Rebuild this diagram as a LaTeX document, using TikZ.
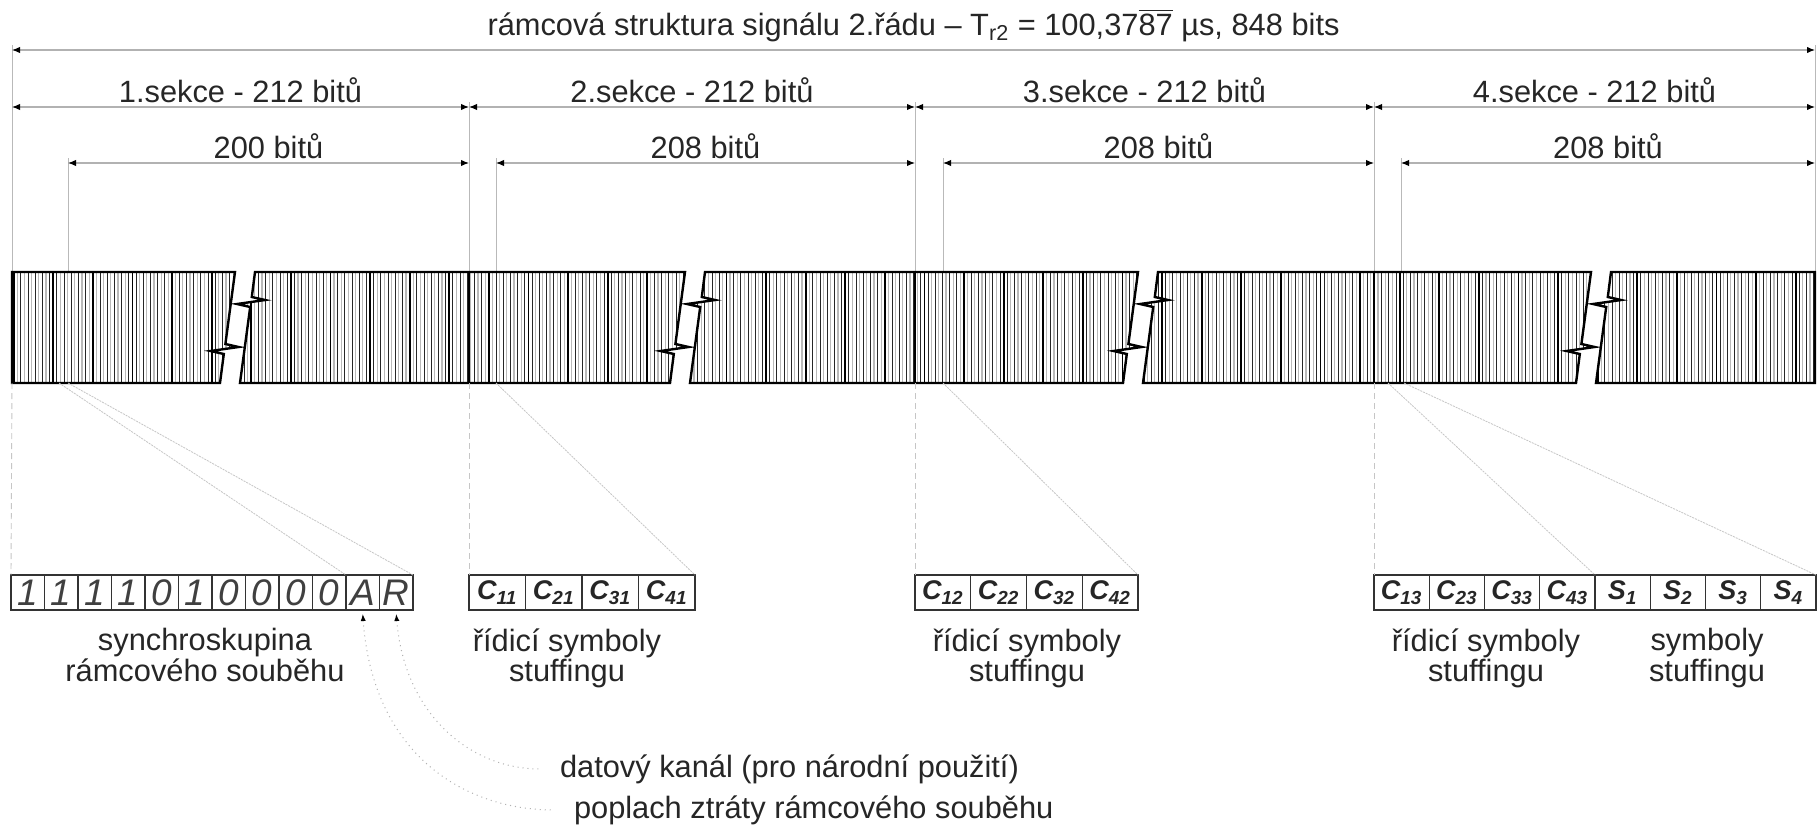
\documentclass[tikz,border=0pt]{standalone}
\usepackage{fontspec}
\setmainfont{Liberation Sans}
\usetikzlibrary{arrows.meta, positioning}

% torn edge on the right side of a bar piece (top to bottom)
\newcommand\cutR[1]{-- (#1,272) -- ({#1-9.6},344) -- ({#1+3.6},347) -- ({#1-10.4},349) -- ({#1-24.4},351) -- ({#1-11.2},354) -- ({#1-15},383)}
% torn edge on the left side of the next piece (bottom to top)
\newcommand\cutL[1]{-- ({#1+15.2},307) -- ({#1+2},304) -- ({#1+16},302) -- ({#1+30},300) -- ({#1+16.8},297) -- ({#1+20},272)}
% the five pieces of the frame bar
\newcommand\barpieces{(12,383) -- (12,272) \cutR{235} -- cycle
  (240,383) \cutL{235} \cutR{685} -- cycle
  (690,383) \cutL{685} \cutR{1138} -- cycle
  (1143,383) \cutL{1138} \cutR{1591} -- cycle
  (1596,383) \cutL{1591} -- (1815,272) -- (1815,383) -- cycle}

\tikzset{
  dim/.style={draw=gray!60, line width=0.55pt,
    {Latex[length=4pt,width=3.2pt,color=black]}-{Latex[length=4pt,width=3.2pt,color=black]}},
  ext/.style={draw=gray!55, line width=0.5pt},
  guide/.style={draw=gray!45, line width=0.45pt, dash pattern=on 3pt off 2pt},
  fan/.style={draw=gray!45, line width=0.4pt, dash pattern=on 1pt off 0.5pt},
  leader/.style={draw=gray!60, line width=0.5pt, dotted,
    {Latex[length=3.5pt,width=2.6pt,color=black]}-},
  lbl/.style={font=\fontsize{15.4}{15.4}\selectfont, text=black!85, inner sep=0pt},
  capt/.style={lbl, align=center},
  bitcell/.style={draw=black!80, line width=0.65pt, minimum width=16.75pt, minimum height=17.5pt,
    inner sep=0pt, outer sep=0pt, font=\fontsize{18.5}{18}\selectfont\itshape, text=black!75},
  stcell/.style={draw=black!80, line width=0.65pt, minimum width=#1, minimum height=17.5pt,
    inner sep=0pt, outer sep=0pt, font=\fontsize{13.5}{14}\selectfont\bfseries\itshape, text=black!85},
  barline/.style={draw=black, line width=1.2pt},
}

\begin{document}
\begin{tikzpicture}[x=0.5pt, y=-0.5pt]
\fill[white] (0,0) rectangle (1819,835);
\useasboundingbox (0,0) rectangle (1819,835);

% extension lines down to the bar
\foreach \x/\y in {12/45, 1815/45, 469/102, 915/102, 1374/102, 68/158, 496/158, 943/158, 1401/158}
  \draw[ext] (\x,\y) -- (\x,272);

% dimension marks
\coordinate (fl) at (12,50);
\coordinate (fr) at (1815,50);
\foreach \x [count=\i] in {12,469,915,1374,1815}
  \coordinate (m\i) at (\x,107);
\foreach \x [count=\i] in {68,496,943,1401}
  \coordinate (d\i) at (\x,163);
\foreach \x [count=\i] in {469,915,1374,1815}
  \coordinate (e\i) at (\x,163);

% dimension lines
\draw[dim] (fl) -- (fr) node[lbl, midway, anchor=base, yshift=7.5pt] (title)
  {rámcová struktura signálu 2.řádu – T\textsubscript{r2} = 100,37\(\overline{\mbox{87}}\) µs, 848 bits};
\draw[dim] (m1) -- (m2) node[lbl, midway, anchor=base, yshift=2.5pt] (sec1) {1.sekce - 212 bitů};
\draw[dim] (m2) -- (m3) node[lbl, midway, anchor=base, yshift=2.5pt] (sec2) {2.sekce - 212 bitů};
\draw[dim] (m3) -- (m4) node[lbl, midway, anchor=base, yshift=2.5pt] (sec3) {3.sekce - 212 bitů};
\draw[dim] (m4) -- (m5) node[lbl, midway, anchor=base, yshift=2.5pt] (sec4) {4.sekce - 212 bitů};
\draw[dim] (d1) -- (e1) node[lbl, midway, anchor=base, yshift=2.5pt] (len1) {200 bitů};
\draw[dim] (d2) -- (e2) node[lbl, midway, anchor=base, yshift=2.5pt] (len2) {208 bitů};
\draw[dim] (d3) -- (e3) node[lbl, midway, anchor=base, yshift=2.5pt] (len3) {208 bitů};
\draw[dim] (d4) -- (e4) node[lbl, midway, anchor=base, yshift=2.5pt] (len4) {208 bitů};

% bit stripes of the frame
\begin{scope}
  \clip \barpieces;
  \foreach \i in {0,...,500} {
    \pgfmathtruncatemacro\m{mod(\i,2)}
    \pgfmathtruncatemacro\k{mod(\i,11)}
    \ifnum\m=0
      \draw[black!85, line width=0.45pt] ({13.6+3.6*\i},272) -- ++(0,111);
    \else
      \draw[gray!55, line width=0.6pt] ({13.6+3.6*\i},272) -- ++(0,111);
    \fi
    \ifnum\k=0
      \draw[black, line width=0.9pt] ({13.6+3.6*\i},272) -- ++(0,111);
    \fi
  }
\end{scope}
\draw[barline] \barpieces;
\foreach \x in {469,915,1374}
  \draw[black, line width=1.1pt] (\x,272) -- (\x,383);

% bit groups
\foreach \v [count=\i] in {1,1,1,1,0,1,0,0,0,0,A,R}
  \node[bitcell] (b\i) at ({11+33.5*(\i-0.5)},592.5) {\v};
\foreach \s [count=\i] in {11,21,31,41}
  \node[stcell=28.25pt] (ca\i) at ({469+56.5*(\i-0.5)},592.5) {C\textsubscript{\s}};
\foreach \s [count=\i] in {12,22,32,42}
  \node[stcell=27.875pt] (cb\i) at ({915+55.75*(\i-0.5)},592.5) {C\textsubscript{\s}};
\foreach \l/\s [count=\i] in {C/13,C/23,C/33,C/43,S/1,S/2,S/3,S/4}
  \node[stcell=27.625pt] (cc\i) at ({1374+55.25*(\i-0.5)},592.5) {\l\textsubscript{\s}};

% where the groups sit in the frame
\coordinate (q1) at (12,383);
\coordinate (q2) at (469,383);
\coordinate (q3) at (915,383);
\coordinate (q4) at (1374,383);
\draw[guide] (q1) -- (b1.north west);
\draw[guide] (q2) -- (ca1.north west);
\draw[guide] (q3) -- (cb1.north west);
\draw[guide] (q4) -- (cc1.north west);

\coordinate (g1) at (59,383);
\coordinate (g2) at (68,383);
\coordinate (g3) at (496,383);
\coordinate (g4) at (943,383);
\coordinate (g5) at (1388,383);
\coordinate (g6) at (1404,383);
\draw[fan] (g1) -- (b11.north west);
\draw[fan] (g2) -- (b12.north east);
\draw[fan] (g3) -- (ca4.north east);
\draw[fan] (g4) -- (cb4.north east);
\draw[fan] (g5) -- (cc4.north east);
\draw[fan] (g6) -- (cc8.north east);

% captions
\node[capt, anchor=north] (sync) at (205,628) {synchroskupina\\rámcového souběhu};
\node[capt, anchor=north] (ctl1) at (567,628) {řídicí symboly\\stuffingu};
\node[capt, anchor=north] (ctl2) at (1027,628) {řídicí symboly\\stuffingu};
\node[capt, anchor=north] (ctl3) at (1486,628) {řídicí symboly\\stuffingu};
\node[capt, anchor=north] (stf) at (1707,628) {symboly\\stuffingu};

\node[lbl, anchor=west, outer sep=10pt] (datkan) at (540,769) {datový kanál (pro národní použití)};
\node[lbl, anchor=west, outer sep=10pt] (alarm) at (554,810) {poplach ztráty rámcového souběhu};

\draw[leader] ([yshift=-2pt]b12.south) .. controls +(8,100) and +(-70,0) .. (datkan.west);
\draw[leader] ([yshift=-2pt]b11.south) .. controls +(10,140) and +(-90,0) .. (alarm.west);

\end{tikzpicture}
\end{document}
